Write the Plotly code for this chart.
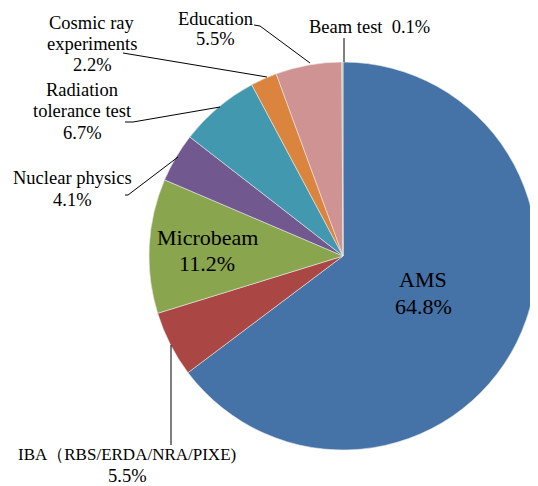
import plotly.graph_objects as go

W, H = 538, 486

# data
labels = ["AMS", "IBA（RBS/ERDA/NRA/PIXE)", "Microbeam", "Nuclear physics",
          "Radiation tolerance test", "Cosmic ray experiments", "Education", "Beam test"]
values = [64.8, 5.5, 11.2, 4.1, 6.7, 2.2, 5.5, 0.1]
colors = ["#4572A7", "#AA4643", "#89A54E", "#71588F",
          "#4198AF", "#DB843D", "#D09393", "#B9CDA0"]

# label lines for each slice
label_lines = {
    "AMS": ["AMS", "64.8%"],
    "IBA（RBS/ERDA/NRA/PIXE)": ["IBA（RBS/ERDA/NRA/PIXE)", "5.5%"],
    "Microbeam": ["Microbeam", "11.2%"],
    "Nuclear physics": ["Nuclear physics", "4.1%"],
    "Radiation tolerance test": ["Radiation", "tolerance test", "6.7%"],
    "Cosmic ray experiments": ["Cosmic ray", "experiments", "2.2%"],
    "Education": ["Education", "5.5%"],
    "Beam test": ["Beam test  0.1%"],
}

FONT = "Liberation Serif, Times New Roman, serif"
OFF = 8  # page body margin shifts the figure by 8px


def px(x, y):
    # screen pixel -> paper coords
    return (x - OFF) / W, 1 - (y - OFF) / H


cx, cy, r = 343, 256, 194
x0, y1 = px(cx - r, cy - r)
x1, y0 = px(cx + r, cy + r)

fig = go.Figure(go.Pie(
    labels=labels,
    values=values,
    sort=False,
    direction="clockwise",
    rotation=0,
    textinfo="none",
    hoverinfo="label+percent",
    marker=dict(colors=colors, line=dict(color="#E8E8E8", width=0.6)),
    domain=dict(x=[x0, x1], y=[y0, y1]),
    showlegend=False,
))

# label placement: centre x, centre y of block, font size, line spacing (px)
label_pos = {
    "AMS": (423, 293, 22, 27),
    "IBA（RBS/ERDA/NRA/PIXE)": (127, 465, 17, 21),
    "Microbeam": (207, 250, 22, 26),
    "Nuclear physics": (72, 189, 18.5, 21),
    "Radiation tolerance test": (82, 111, 18.5, 21.5),
    "Cosmic ray experiments": (92, 44, 18.5, 21),
    "Education": (215, 29, 18.5, 20),
    "Beam test": (370, 27, 18.5, 20),
}

for lab in labels:
    x, y, size, step = label_pos[lab]
    lines = label_lines[lab]
    n = len(lines)
    for i, line in enumerate(lines):
        ax, ay = px(x, y + (i - (n - 1) / 2) * step)
        fig.add_annotation(
            x=ax, y=ay, xref="paper", yref="paper",
            text=line, showarrow=False,
            font=dict(family=FONT, size=(18.5 if line == "5.5%" else size), color="black"),
            align="center", xanchor="center", yanchor="middle",
        )

# leader lines
leaders = [
    [(344, 38), (344, 62)],
    [(254, 25), (260, 26), (310, 63)],
    [(123, 53), (267, 77)],
    [(125, 122), (133, 122), (220, 107)],
    [(125, 195), (128, 195), (178, 157)],
    [(171, 345), (171, 445)],
]
for pts in leaders:
    path = "M " + " L ".join(f"{px(x, y)[0]},{px(x, y)[1]}" for x, y in pts)
    fig.add_shape(type="path", path=path, xref="paper", yref="paper",
                  line=dict(color="black", width=1))

fig.update_layout(
    width=W, height=H,
    margin=dict(l=0, r=0, t=0, b=0),
    paper_bgcolor="white",
    plot_bgcolor="white",
    font=dict(family=FONT),
)

fig.write_html("out.html")
